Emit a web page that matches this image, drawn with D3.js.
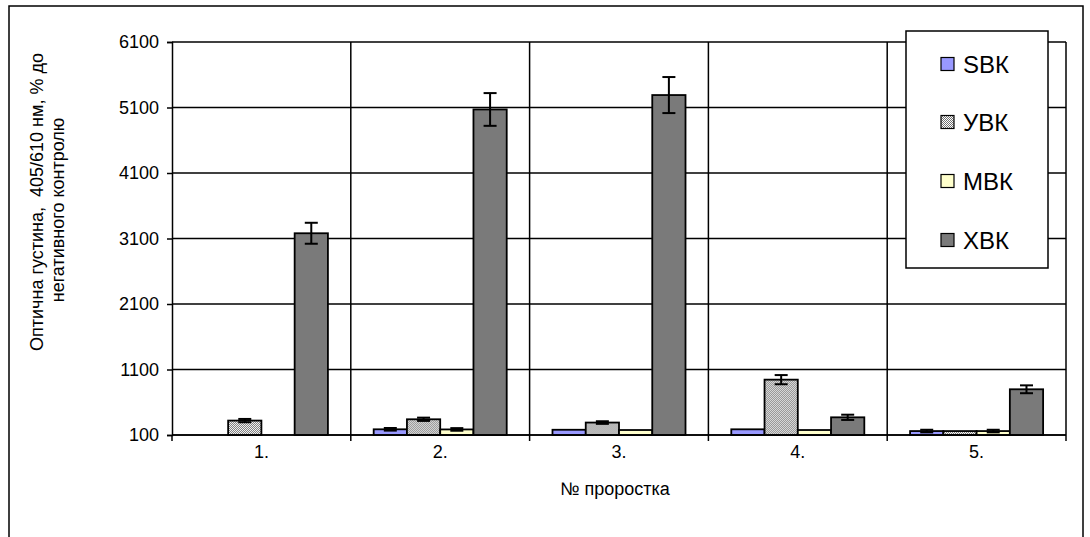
<!DOCTYPE html>
<html>
<head>
<meta charset="utf-8">
<script src="https://cdn.jsdelivr.net/npm/d3@7/dist/d3.min.js"></script>
<style>
  html, body { margin: 0; padding: 0; background: #fff; }
  svg { display: block; font-family: "Liberation Sans", Arial, sans-serif; }
</style>
</head>
<body>
<svg id="chart" width="1090" height="537"></svg>
<script>
// Sprout samples and antibody series
const categories = ["1.", "2.", "3.", "4.", "5."];
const seriesNames = ["SВК", "УВК", "МВК", "ХВК"];

// Optical density, % of negative control
const sbkValues = [100, 187, 180, 187, 160];
const uvkValues = [320, 340, 290, 945, 160];
const mvkValues = [100, 185, 176, 176, 160];
const xvkValues = [3180, 5070, 5290, 370, 798];

// Error half-widths
const sbkErrors = [0, 20, 0, 0, 20];
const uvkErrors = [25, 25, 20, 70, 0];
const mvkErrors = [0, 20, 0, 0, 20];
const xvkErrors = [160, 250, 275, 40, 60];

const yTicks = [100, 1100, 2100, 3100, 4100, 5100, 6100];

const seriesValues = [sbkValues, uvkValues, mvkValues, xvkValues];
const seriesErrors = [sbkErrors, uvkErrors, mvkErrors, xvkErrors];
const seriesFills = ["#9999ff", "url(#dots)", "#ffffcc", "#7a7a7a"];

const svg = d3.select("#chart");

// Fine dotted fill for the second series
const defs = svg.append("defs");
const pat = defs.append("pattern").attr("id", "dots")
  .attr("width", 2).attr("height", 2).attr("patternUnits", "userSpaceOnUse");
pat.append("rect").attr("width", 2).attr("height", 2).attr("fill", "#ffffff");
pat.append("rect").attr("x", 0).attr("y", 0).attr("width", 1).attr("height", 1).attr("fill", "#707070");
pat.append("rect").attr("x", 1).attr("y", 1).attr("width", 1).attr("height", 1).attr("fill", "#707070");

// Outer chart frame
svg.append("rect").attr("x", 9).attr("y", 6).attr("width", 1074).attr("height", 545)
  .attr("fill", "none").attr("stroke", "#000").attr("stroke-width", 1.5);

const plot = { left: 172, right: 1066, top: 42, bottom: 435 };

const y = d3.scaleLinear().domain([100, 6100]).range([plot.bottom, plot.top]);

const xCat = d3.scaleBand().domain(categories).range([plot.left, plot.right])
  .paddingInner(0.256).paddingOuter(0.128);
const step = xCat.step();
const xSeries = d3.scaleBand().domain(d3.range(seriesNames.length)).range([0, xCat.bandwidth()]);

// Horizontal gridlines
svg.append("g").selectAll("line").data(yTicks).join("line")
  .attr("x1", plot.left).attr("x2", plot.right)
  .attr("y1", d => y(d)).attr("y2", d => y(d))
  .attr("stroke", "#000").attr("stroke-width", 1.5);

// Vertical gridlines at category boundaries
const boundaries = categories.map(c => xCat(c) - step * 0.128).concat([plot.right]);
svg.append("g").selectAll("line").data(boundaries.slice(1)).join("line")
  .attr("x1", d => d).attr("x2", d => d)
  .attr("y1", plot.top).attr("y2", plot.bottom)
  .attr("stroke", "#000").attr("stroke-width", 1.5);

// Y axis
const yAxis = svg.append("g").attr("transform", `translate(${plot.left},0)`)
  .call(d3.axisLeft(y).tickValues(yTicks).tickSize(5).tickPadding(8).tickFormat(d3.format("d")));
yAxis.attr("font-size", null).attr("font-family", null);
yAxis.select(".domain").attr("stroke", "#000").attr("stroke-width", 1.5);
yAxis.selectAll(".tick line").attr("stroke", "#000").attr("stroke-width", 1.5);
yAxis.selectAll("text").style("font-size", "18px").attr("fill", "#000")
  .style("font-family", "'Liberation Sans', Arial, sans-serif");

// Bars
const groups = svg.append("g").selectAll("g").data(categories).join("g")
  .attr("transform", c => `translate(${xCat(c)},0)`);

seriesNames.forEach((name, si) => {
  groups.append("rect")
    .attr("x", xSeries(si))
    .attr("width", xSeries.bandwidth())
    .attr("y", (c, ci) => y(seriesValues[si][ci]))
    .attr("height", (c, ci) => Math.max(0, y(100) - y(seriesValues[si][ci])))
    .attr("fill", seriesFills[si])
    .attr("stroke", "#000").attr("stroke-width", 1.8);
});

// Error bars
seriesNames.forEach((name, si) => {
  groups.each(function (c, ci) {
    const err = seriesErrors[si][ci];
    if (!err) return;
    const v = seriesValues[si][ci];
    const cx = xSeries(si) + xSeries.bandwidth() / 2;
    const g = d3.select(this).append("g").attr("stroke", "#000").attr("stroke-width", 2);
    g.append("line").attr("x1", cx).attr("x2", cx).attr("y1", y(v + err)).attr("y2", y(Math.max(100, v - err)));
    g.append("line").attr("x1", cx - 6.5).attr("x2", cx + 6.5).attr("y1", y(v + err)).attr("y2", y(v + err));
    g.append("line").attr("x1", cx - 6.5).attr("x2", cx + 6.5)
      .attr("y1", y(Math.max(100, v - err))).attr("y2", y(Math.max(100, v - err)));
  });
});

// X axis line, boundary ticks and labels
svg.append("line").attr("x1", plot.left).attr("x2", plot.right)
  .attr("y1", plot.bottom).attr("y2", plot.bottom)
  .attr("stroke", "#000").attr("stroke-width", 1.5);
svg.append("g").selectAll("line").data(boundaries).join("line")
  .attr("x1", d => d).attr("x2", d => d)
  .attr("y1", plot.bottom).attr("y2", plot.bottom + 6)
  .attr("stroke", "#000").attr("stroke-width", 1.5);
svg.append("g").selectAll("text").data(categories).join("text")
  .attr("x", c => xCat(c) + xCat.bandwidth() / 2)
  .attr("y", 458)
  .attr("text-anchor", "middle").style("font-size", "18px").attr("fill", "#000")
  .text(c => c);

// Axis titles
svg.append("text").attr("x", 615).attr("y", 495)
  .attr("text-anchor", "middle").style("font-size", "18px").attr("fill", "#000")
  .text("№ проростка");

svg.append("text").attr("transform", "translate(43,202) rotate(-90)")
  .attr("text-anchor", "middle").style("font-size", "18px").attr("fill", "#000")
  .attr("xml:space", "preserve")
  .text("Оптична густина,  405/610 нм, % до");
svg.append("text").attr("transform", "translate(64,210) rotate(-90)")
  .attr("text-anchor", "middle").style("font-size", "18px").attr("fill", "#000")
  .text("негативного контролю");

// Legend
const legend = svg.append("g");
legend.append("rect").attr("x", 906).attr("y", 31).attr("width", 142).attr("height", 237)
  .attr("fill", "#fff").attr("stroke", "#000").attr("stroke-width", 1.5);
const legendRows = [64, 122, 181, 240];
seriesNames.forEach((name, si) => {
  legend.append("rect").attr("x", 941).attr("y", legendRows[si] - 6.5)
    .attr("width", 13).attr("height", 13)
    .attr("fill", seriesFills[si]).attr("stroke", "#000").attr("stroke-width", 1.2);
  legend.append("text").attr("x", 963).attr("y", legendRows[si] + 8.5)
    .style("font-size", "24px").attr("fill", "#000").text(name);
});
</script>
</body>
</html>
